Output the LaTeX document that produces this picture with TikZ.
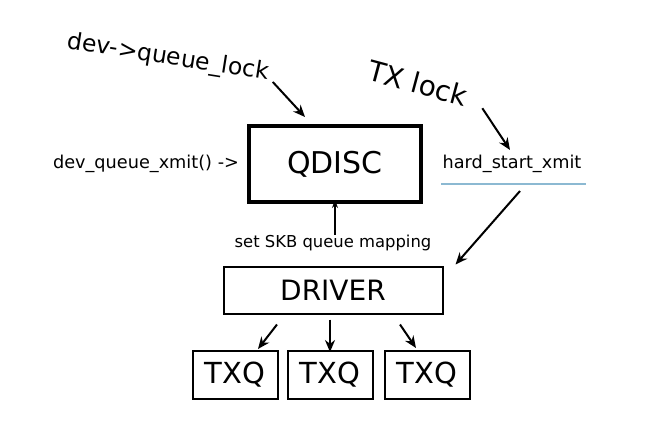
\documentclass[tikz,border=0pt]{standalone}
\usepackage{fontspec}
\setmainfont{DejaVu Sans}
\usetikzlibrary{positioning}
\usetikzlibrary{arrows.meta}
\tikzset{
        % Boxes of the stack
        box_main/.style={draw=black, line width=4pt, minimum width=172pt, minimum height=76pt, font=\fontsize{30}{32}\selectfont},
        box_driver/.style={draw=black, line width=2pt, minimum width=219pt, minimum height=47pt, font=\fontsize{28}{30}\selectfont},
        box_txq/.style={draw=black, line width=2pt, minimum width=85pt, minimum height=48pt, font=\fontsize{29}{31}\selectfont},
        % Plain labels
        label_call/.style={inner sep=0pt, font=\fontsize{17.7}{20}\selectfont},
        label_lock/.style={inner sep=0pt},
        % Connectors
        arrow_big/.style={line width=2pt, -{Stealth[length=12pt,width=10pt]}},
        arrow_small/.style={line width=1.2pt, -{Stealth[length=8pt,width=6pt]}},
        underline_blue/.style={line width=1.2pt, draw=blue_line}
}
\definecolor{blue_line}{RGB}{140,185,210}
\begin{document}
\begin{tikzpicture}[x=1pt, y=-1pt]
    \useasboundingbox (0,0) rectangle (650,436);
    % boxes
    \node[box_main] (qdisc) at (335,164) {QDISC};
    \node[box_driver] (driver) at (333,290) {DRIVER};
    \node[box_txq] (txq_b) at (330,375) {TXQ};
    \node[box_txq, left=8pt of txq_b] (txq_a) {TXQ};
    \node[box_txq, right=10pt of txq_b] (txq_c) {TXQ};
    % labels
    \node[label_call] (enqueue) at (146,164) {dev\_queue\_xmit() ->};
    \node[label_call] (hardxmit) at (512,164) {hard\_start\_xmit};
    \node[label_call, font=\fontsize{16.4}{18}\selectfont] (skbmap) at (333,243) {set SKB queue mapping};
    \node[label_lock, rotate=-9, font=\fontsize{23.5}{25}\selectfont] (qlock) at (168,58) {dev->queue\_lock};
    \node[label_lock, rotate=-15, font=\fontsize{28}{30}\selectfont] (txlock) at (418,83) {TX lock};
    % underline
    \coordinate (ul_a) at ([shift={(-1,11)}]hardxmit.south west);
    \coordinate (ul_b) at ([shift={(4,11)}]hardxmit.south east);
    \draw[underline_blue] (ul_a) -- (ul_b);
    % arrows
    \draw[arrow_big] ([shift={(4,8)}]qlock.east) -- ([shift={(-30,-7)}]qdisc.north);
    \draw[arrow_big] ([shift={(15,12)}]txlock.east) -- ([shift={(-2,-5)}]hardxmit.north);
    \draw[arrow_big] ([shift={(8,18)}]hardxmit.south) -- ([shift={(12,-1)}]driver.north east);
    \draw[arrow_small] (skbmap.north -| qdisc.south) -- ([yshift=4pt]qdisc.south);
    \draw[arrow_big] ([shift={(-56,10)}]driver.south) -- ([shift={(23,-1)}]txq_a.north);
    \draw[arrow_big] ([shift={(-3,5)}]driver.south) -- ([yshift=-2pt]txq_b.north);
    \draw[arrow_big] ([shift={(67,10)}]driver.south) -- ([shift={(-11,-2)}]txq_c.north);
\end{tikzpicture}
\end{document}
